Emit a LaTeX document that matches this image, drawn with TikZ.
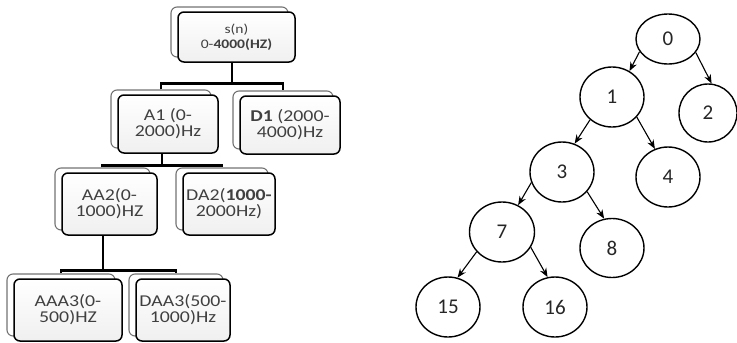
\documentclass[tikz,border=0pt]{standalone}
\usepackage{fontspec}
\setmainfont{Carlito}
\newfontfamily\boxfont[FakeStretch=1.2]{Carlito}
\usetikzlibrary{shadows,arrows.meta,shapes.geometric}
\begin{document}
\begin{tikzpicture}[x=1pt,y=-1pt,
  band/.style={draw=black, line width=1.5pt, rounded corners=6pt,
    top color=white, bottom color=black!6, inner sep=0pt, align=center,
    text=black!75, font=\boxfont\fontsize{16.5}{16}\selectfont,
    general shadow={shadow xshift=-7pt, shadow yshift=5pt, draw=black!55,
      line width=1.1pt, fill=white}},
  branch/.style={draw=black, line width=2.6pt},
  knot/.style={ellipse, draw=black, line width=1.4pt, inner sep=0pt,
    text=black!85, font=\fontsize{21}{22}\selectfont},
  link/.style={draw=black, line width=1.1pt, -{Stealth[length=9pt,width=7pt]}}]
\useasboundingbox (0,0) rectangle (737,343);

% filter bank decomposition
\node[band, minimum width=117pt, minimum height=50pt,
  font=\boxfont\fontsize{13}{15}\selectfont] (s) at (236.5,37)
  {s(n)\\0-{\bfseries 4000(HZ)}};
\node[band, minimum width=100pt, minimum height=58pt] (A1) at (168,124) {A1 (0-\\2000)Hz};
\node[band, minimum width=100pt, minimum height=58pt] (D1) at (290,125) {{\bfseries D1} (2000-\\4000)Hz};
\node[band, minimum width=95pt, minimum height=62pt] (AA2) at (109.5,204) {AA2(0-\\1000)HZ};
\node[band, minimum width=92pt, minimum height=62pt] (DA2) at (229,204) {DA2({\bfseries 1000-}\\2000Hz)};
\node[band, minimum width=108pt, minimum height=62pt] (AAA3) at (68,310) {AAA3(0-\\500)HZ};
\node[band, minimum width=94pt, minimum height=62pt] (DAA3) at (183,310) {DAA3(500-\\1000)Hz};

\draw[branch] ([xshift=-4.5pt]s.south) -- ++(0,21) coordinate (j0);
\draw[branch] ([xshift=-7pt,yshift=5pt]A1.north) |- (j0) -| ([xshift=-7pt,yshift=5pt]D1.north);
\draw[branch] ([xshift=-6pt]A1.south) -- ++(0,12) coordinate (j1);
\draw[branch] ([xshift=-7pt,yshift=5pt]AA2.north) |- (j1) -| ([xshift=-7pt,yshift=5pt]DA2.north);
\draw[branch] ([xshift=-6.5pt]AA2.south) -- ++(0,35) coordinate (j2);
\draw[branch] ([xshift=-7pt,yshift=5pt]AAA3.north) |- (j2) -| ([xshift=-7pt,yshift=5pt]DAA3.north);

% binary tree of node indices
\node[knot, minimum width=64pt, minimum height=50pt] (n0) at (668,39) {0};
\node[knot, minimum width=64pt, minimum height=60pt] (n1) at (612,97) {1};
\node[knot, minimum width=58pt, minimum height=58pt] (n2) at (708,113) {2};
\node[knot, minimum width=64pt, minimum height=60pt] (n3) at (562,172) {3};
\node[knot, minimum width=64pt, minimum height=60pt] (n4) at (668,177) {4};
\node[knot, minimum width=65pt, minimum height=60pt] (n7) at (502,232) {7};
\node[knot, minimum width=64pt, minimum height=59pt] (n8) at (612,248) {8};
\node[knot, minimum width=64pt, minimum height=60pt] (n15) at (448,307) {15};
\node[knot, minimum width=64pt, minimum height=60pt] (n16) at (555,307) {16};

\draw[link] (n0.204) -- (n1.56);
\draw[link] (n0.334) -- (n2.83);
\draw[link] (n1.226) -- (n3.66);
\draw[link] (n1.321) -- (n4.115);
\draw[link] (n3.199) -- (n7.59);
\draw[link] (n3.322) -- (n8.105);
\draw[link] (n7.218) -- (n15.72);
\draw[link] (n7.332) -- (n16.104);
\end{tikzpicture}
\end{document}
